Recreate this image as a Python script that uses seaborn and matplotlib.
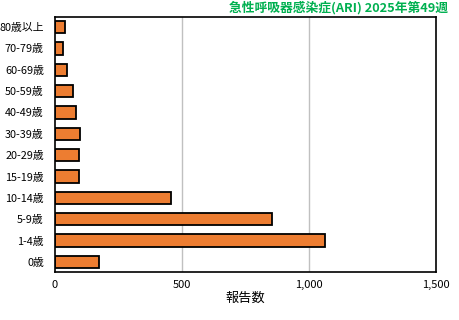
import matplotlib
matplotlib.use("Agg")
import matplotlib.pyplot as plt
import seaborn as sns
import pandas as pd
from matplotlib.ticker import FuncFormatter

categories = ["80歳以上", "70-79歳", "60-69歳", "50-59歳", "40-49歳", "30-39歳",
              "20-29歳", "15-19歳", "10-14歳", "5-9歳", "1-4歳", "0歳"]
values = [41, 32, 49, 72, 84, 100, 95, 95, 455, 855, 1062, 174]
x_ticks = [0, 500, 1000, 1500]
title = "急性呼吸器感染症(ARI) 2025年第49週"
x_label = "報告数"

sns.set_theme(style="white")
plt.rcParams['font.family'] = ['Noto Sans CJK JP', 'DejaVu Sans']

df = pd.DataFrame({"age": categories, "count": values})

fig = plt.figure(figsize=(4.6, 3.2), dpi=100)
ax = fig.add_axes([55/460, 1-272/320, (436-55)/460, (272-17)/320])

for xv in x_ticks[1:-1]:
    ax.axvline(xv, color="#c0c0c0", lw=1, zorder=0)

sns.barplot(data=df, x="count", y="age", order=categories, color="#ED7D31",
            saturation=1, edgecolor="black", linewidth=1.3, width=0.58, ax=ax, zorder=2)

ax.set_xlim(0, 1500)
ax.set_ylim(11.47, -0.47)
ax.set_xticks(x_ticks)
ax.xaxis.set_major_formatter(FuncFormatter(lambda v, p: f"{int(v):,}"))
ax.tick_params(axis="x", labelsize=8, length=0, pad=6, colors="black")
ax.tick_params(axis="y", labelsize=7.8, length=0, pad=8, colors="black")
ax.set_ylabel("")
ax.set_xlabel(x_label, fontsize=9.5, labelpad=1, color="black")
for s in ax.spines.values():
    s.set_color("black")
    s.set_linewidth(1.2)
ax.grid(False)

fig.text(448/460, 1-8/320, title, ha="right", va="center", color="#00B050",
         fontsize=9.2, fontweight="bold")

fig.savefig("out.png", dpi=100)
